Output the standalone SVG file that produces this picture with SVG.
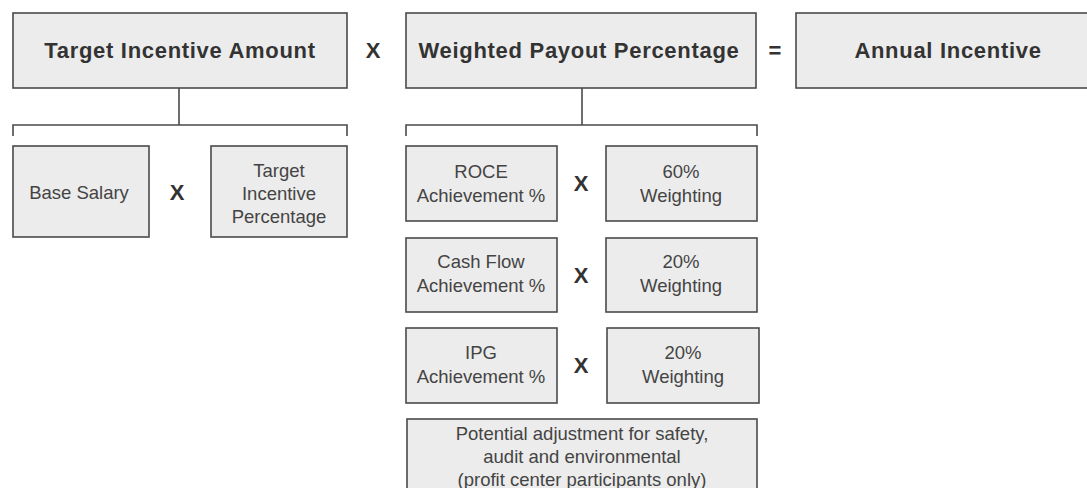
<svg xmlns="http://www.w3.org/2000/svg" width="1087" height="488" viewBox="0 0 1087 488">
<style>
.box{fill:#ececec;stroke:#4a4a4a;stroke-width:1.6}
.big{font-family:"Liberation Sans",Arial,sans-serif;font-weight:bold;font-size:22px;fill:#333;text-anchor:middle;letter-spacing:0.7px}
.sm{font-family:"Liberation Sans",Arial,sans-serif;font-size:18.5px;fill:#444;text-anchor:middle}
.op{font-family:"Liberation Sans",Arial,sans-serif;font-weight:bold;font-size:22px;fill:#333;text-anchor:middle}
.ln{fill:none;stroke:#4a4a4a;stroke-width:1.6}
</style>
<rect width="1087" height="488" fill="#fff"/>
<g id="connectors">
<path class="ln" d="M179 88V125M13 136V125H347V136"/>
<path class="ln" d="M582 88V125M406 136V125H757V136"/>
</g>
<g id="target-incentive-amount"><rect class="box" x="13" y="13" width="334" height="75"/><text class="big" x="180" y="58">Target Incentive Amount</text></g>
<g id="op1"><text class="op" x="373" y="58">X</text></g>
<g id="weighted-payout"><rect class="box" x="406" y="13" width="350" height="75"/><text class="big" x="579" y="58">Weighted Payout Percentage</text></g>
<g id="op2"><text class="op" x="775" y="58">=</text></g>
<g id="annual-incentive"><rect class="box" x="796" y="13" width="310" height="75"/><text class="big" x="948" y="58">Annual Incentive</text></g>
<g id="base-salary"><rect class="box" x="13" y="146" width="136" height="91"/><text class="sm" x="79" y="199">Base Salary</text></g>
<g id="op3"><text class="op" x="177" y="200">X</text></g>
<g id="target-incentive-pct"><rect class="box" x="211" y="146" width="136" height="91"/><text class="sm" x="279" y="177">Target</text><text class="sm" x="279" y="200">Incentive</text><text class="sm" x="279" y="223">Percentage</text></g>
<g id="roce"><rect class="box" x="406" y="146" width="151" height="75"/><text class="sm" x="481" y="178">ROCE</text><text class="sm" x="481" y="202">Achievement %</text></g>
<g id="op4"><text class="op" x="581" y="191">X</text></g>
<g id="w60"><rect class="box" x="606" y="146" width="151" height="75"/><text class="sm" x="681" y="178">60%</text><text class="sm" x="681" y="202">Weighting</text></g>
<g id="cashflow"><rect class="box" x="406" y="238" width="151" height="74"/><text class="sm" x="481" y="268">Cash Flow</text><text class="sm" x="481" y="292">Achievement %</text></g>
<g id="op5"><text class="op" x="581" y="283">X</text></g>
<g id="w20a"><rect class="box" x="606" y="238" width="151" height="74"/><text class="sm" x="681" y="268">20%</text><text class="sm" x="681" y="292">Weighting</text></g>
<g id="ipg"><rect class="box" x="406" y="328" width="151" height="75"/><text class="sm" x="481" y="359">IPG</text><text class="sm" x="481" y="383">Achievement %</text></g>
<g id="op6"><text class="op" x="581" y="373">X</text></g>
<g id="w20b"><rect class="box" x="607" y="328" width="152" height="75"/><text class="sm" x="683" y="359">20%</text><text class="sm" x="683" y="383">Weighting</text></g>
<g id="adjustment"><rect class="box" x="407" y="419" width="350" height="90"/><text class="sm" x="582" y="440">Potential adjustment for safety,</text><text class="sm" x="582" y="463">audit and environmental</text><text class="sm" x="582" y="486">(profit center participants only)</text></g>
</svg>
